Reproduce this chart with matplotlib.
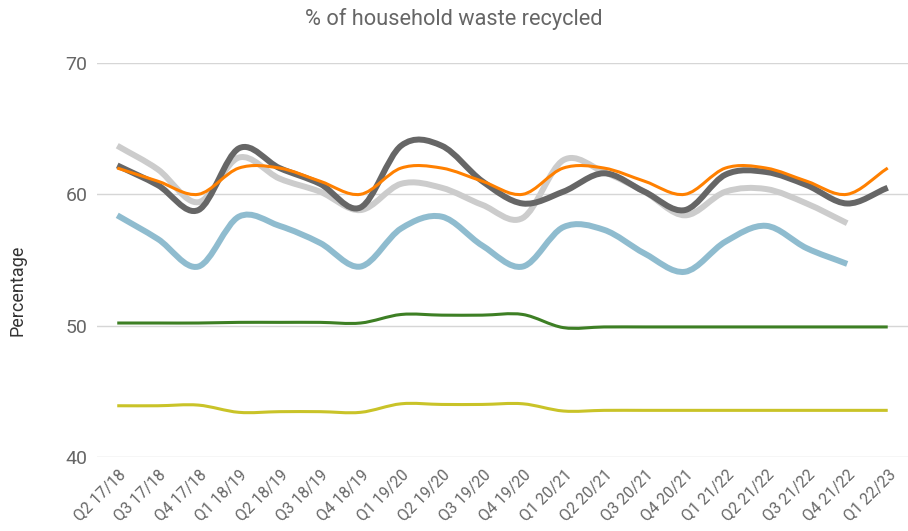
import numpy as np
import matplotlib
matplotlib.use('Agg')
import matplotlib.pyplot as plt
from matplotlib.path import Path
from matplotlib.patches import PathPatch

plt.rcParams['font.family'] = ['Roboto', 'DejaVu Sans']

quarters = ['Q2 17/18', 'Q3 17/18', 'Q4 17/18',
            'Q1 18/19', 'Q2 18/19', 'Q3 18/19', 'Q4 18/19',
            'Q1 19/20', 'Q2 19/20', 'Q3 19/20', 'Q4 19/20',
            'Q1 20/21', 'Q2 20/21', 'Q3 20/21', 'Q4 20/21',
            'Q1 21/22', 'Q2 21/22', 'Q3 21/22', 'Q4 21/22',
            'Q1 22/23']

yellow = [43.9, 43.9, 43.95, 43.4, 43.45, 43.45, 43.4, 44.05, 44.0, 44.0,
          44.05, 43.5, 43.55, 43.55, 43.55, 43.55, 43.55, 43.55, 43.55, 43.55]
green = [50.2, 50.2, 50.2, 50.25, 50.25, 50.25, 50.2, 50.85, 50.8, 50.8,
         50.85, 49.85, 49.9, 49.9, 49.9, 49.9, 49.9, 49.9, 49.9, 49.9]
blue = [58.4, 56.6, 54.5, 58.3, 57.6, 56.3, 54.5, 57.4, 58.3, 56.1,
        54.5, 57.5, 57.3, 55.5, 54.1, 56.4, 57.6, 55.9, 54.7, None]
light_grey = [63.7, 61.9, 59.4, 62.8, 61.2, 60.2, 58.8, 60.8, 60.5, 59.2,
              58.2, 62.6, 61.7, 60.2, 58.4, 60.2, 60.4, 59.3, 57.8, None]
dark_grey = [62.2, 60.7, 58.8, 63.5, 62.0, 60.8, 59.0, 63.7, 63.7, 61.0,
             59.3, 60.2, 61.6, 60.2, 58.8, 61.5, 61.7, 60.7, 59.3, 60.5]
target = [62, 61, 60, 62, 62, 61, 60, 62, 62, 61,
          60, 62, 62, 61, 60, 62, 62, 61, 60, 62]


def smooth_path(values):
    # catmull-rom style bezier through the points (like a smoothed excel line)
    pts = np.array([(i, v) for i, v in enumerate(values) if v is not None], float)
    n = len(pts)
    tang = np.zeros_like(pts)
    tang[1:-1] = (pts[2:] - pts[:-2]) / 2
    tang[0] = pts[1] - pts[0]
    tang[-1] = pts[-1] - pts[-2]
    verts = [tuple(pts[0])]
    codes = [Path.MOVETO]
    for i in range(1, n):
        c1 = pts[i - 1] + tang[i - 1] / 3
        c2 = pts[i] - tang[i] / 3
        verts += [tuple(c1), tuple(c2), tuple(pts[i])]
        codes += [Path.CURVE4] * 3
    return Path(verts, codes)


fig = plt.figure(figsize=(9.08, 5.31), dpi=100)
ax = fig.add_axes([0.1068, 0.1394, 0.8932, 0.742])

series = [
    (yellow, '#c9c328', 2.2),
    (green, '#3d7f24', 2.2),
    (blue, '#8fbccf', 4.3),
    (light_grey, '#cccccc', 4.3),
    (dark_grey, '#666666', 4.3),
    (target, '#ff8000', 2.2),
]
for vals, col, lw in series:
    ax.add_patch(PathPatch(smooth_path(vals), facecolor='none', edgecolor=col,
                           lw=lw, capstyle='butt', joinstyle='round'))

ax.set_xlim(-0.5, len(quarters) - 0.5)
ax.set_ylim(40, 70)
ax.set_yticks([40, 50, 60, 70])
ax.set_xticks(range(len(quarters)))
ax.set_xticklabels(quarters, rotation=45, ha='right', rotation_mode='anchor',
                   fontsize=11.3, color='#666666')
ax.tick_params(axis='x', length=0, pad=7)
ax.tick_params(axis='y', length=0, pad=7, labelsize=14, labelcolor='#666666')
ax.grid(axis='y', color='#d6d6d6', lw=1)
ax.set_axisbelow(True)
for s in ax.spines.values():
    s.set_visible(False)

fig.text(0.5, 1 - 19 / 531, '% of household waste recycled', ha='center',
         va='center', fontsize=15.7, color='#666666')
fig.text(18 / 908, 1 - 290 / 531, 'Percentage', rotation=90, ha='center',
         va='center', fontsize=13, color='#333333')

fig.savefig('out.png', dpi=100)
